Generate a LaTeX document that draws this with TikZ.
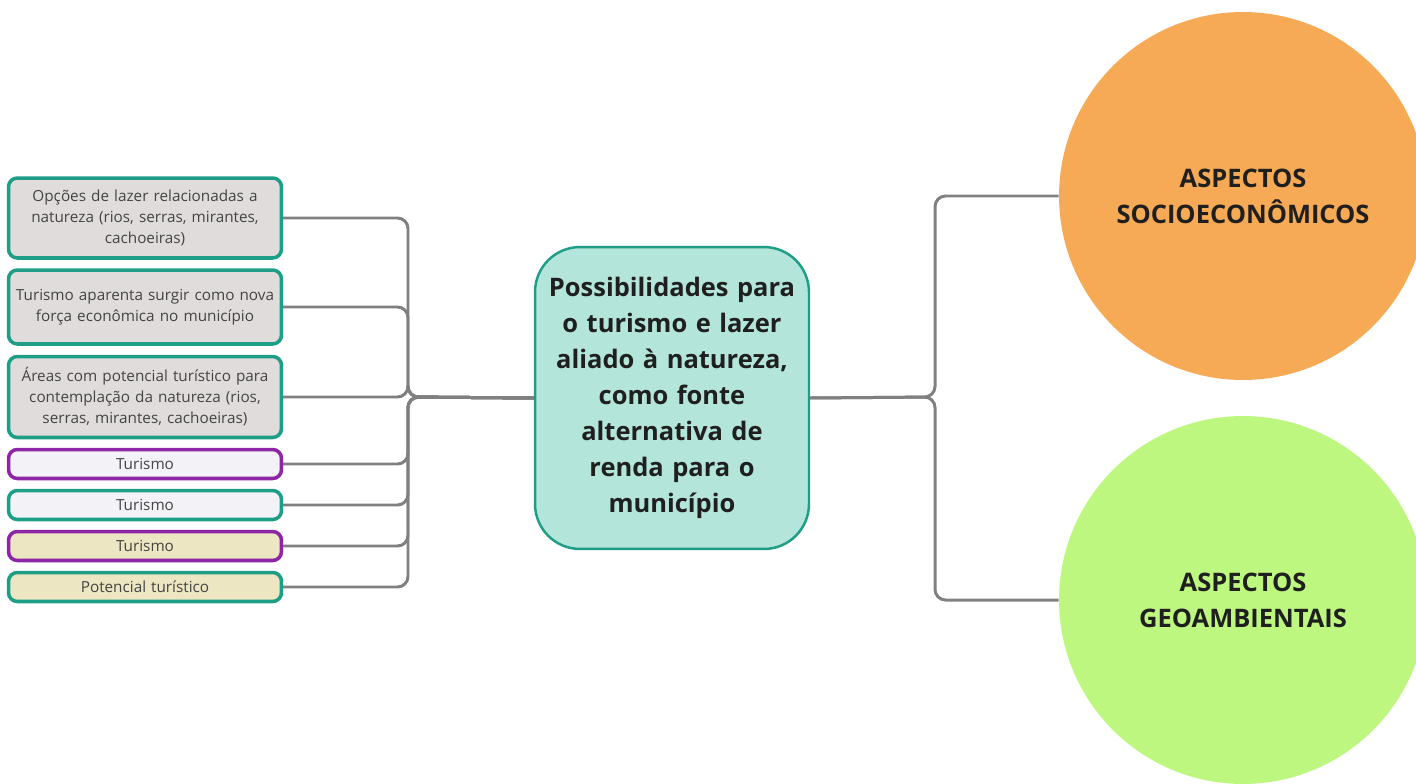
\documentclass[tikz,border=0pt]{standalone}
\usepackage{fontspec}
\setmainfont{Open Sans}
\usetikzlibrary{positioning, calc}
\definecolor{tealB}{HTML}{1E9E86}
\definecolor{purpB}{HTML}{8E24A6}
\definecolor{fillGray}{HTML}{E0DCDC}
\definecolor{fillPale}{HTML}{F3F3F7}
\definecolor{fillBeige}{HTML}{EDE6C2}
\definecolor{fillMain}{HTML}{B3E5DA}
\definecolor{fillSoc}{HTML}{F7AA55}
\definecolor{fillGeo}{HTML}{BDF780}
\definecolor{connG}{HTML}{808080}
\definecolor{txtG}{HTML}{444444}

\begin{document}
\begin{tikzpicture}[x=0.02cm, y=-0.02cm,
  leaf/.style={draw=tealB, line width=2pt, rounded corners=5pt, minimum width=5.46cm, text width=5.35cm, align=center, inner sep=0pt, text=txtG, font=\fontsize{8.7}{12}\selectfont},
  conn/.style={draw=connG, line width=1.7pt, rounded corners=6pt},
  blob/.style={circle, minimum size=7.36cm, inner sep=0pt, align=center, text=black!88, font=\fontsize{14.5}{20.5}\selectfont\bfseries}]
\useasboundingbox (0,0) rectangle (1416,784);
% left column
\node[leaf, fill=fillGray, minimum height=1.6cm] (opc) at (145,218) {Opções de lazer relacionadas a\\natureza (rios, serras, mirantes,\\cachoeiras)};
\node[leaf, fill=fillGray, minimum height=1.48cm] (tur) at (145,307) {Turismo aparenta surgir como nova\\força econômica no município};
\node[leaf, fill=fillGray, minimum height=1.62cm] (are) at (145,397) {Áreas com potencial turístico para\\contemplação da natureza (rios,\\serras, mirantes, cachoeiras)};
\node[leaf, fill=fillPale, draw=purpB, minimum height=0.58cm] (t1) at (145,464) {Turismo};
\node[leaf, fill=fillPale, minimum height=0.58cm] (t2) at (145,505) {Turismo};
\node[leaf, fill=fillBeige, draw=purpB, minimum height=0.58cm] (t3) at (145,546) {Turismo};
\node[leaf, fill=fillBeige, minimum height=0.58cm] (pot) at (145,587) {Potencial turístico};
% centre
\node[draw=tealB, line width=1.4pt, fill=fillMain, rounded corners=0.9cm, minimum width=5.48cm, minimum height=6.04cm, text width=5.2cm, align=center, text=black!88, font=\fontsize{14.5}{20.5}\selectfont\bfseries] (main) at (672,398) {Possibilidades para\\o turismo e lazer\\aliado à natureza,\\como fonte\\alternativa de\\renda para o\\município};
% right circles
\node[blob, fill=fillSoc] (soc) at (1243,196) {ASPECTOS\\SOCIOECONÔMICOS};
\node[blob, fill=fillGeo] (geo) at (1243,600) {ASPECTOS\\GEOAMBIENTAIS};
\coordinate (lbus) at (408,397);
\coordinate (rbus) at (935,397);
\foreach \n in {opc,tur,are,t1,t2,t3,pot}
  \draw[conn] (\n.east) -| (lbus) -- (main.west);
\draw[conn] (main.east) -- (rbus) |- (soc.west);
\draw[conn] (main.east) -- (rbus) |- (geo.west);
\end{tikzpicture}
\end{document}
